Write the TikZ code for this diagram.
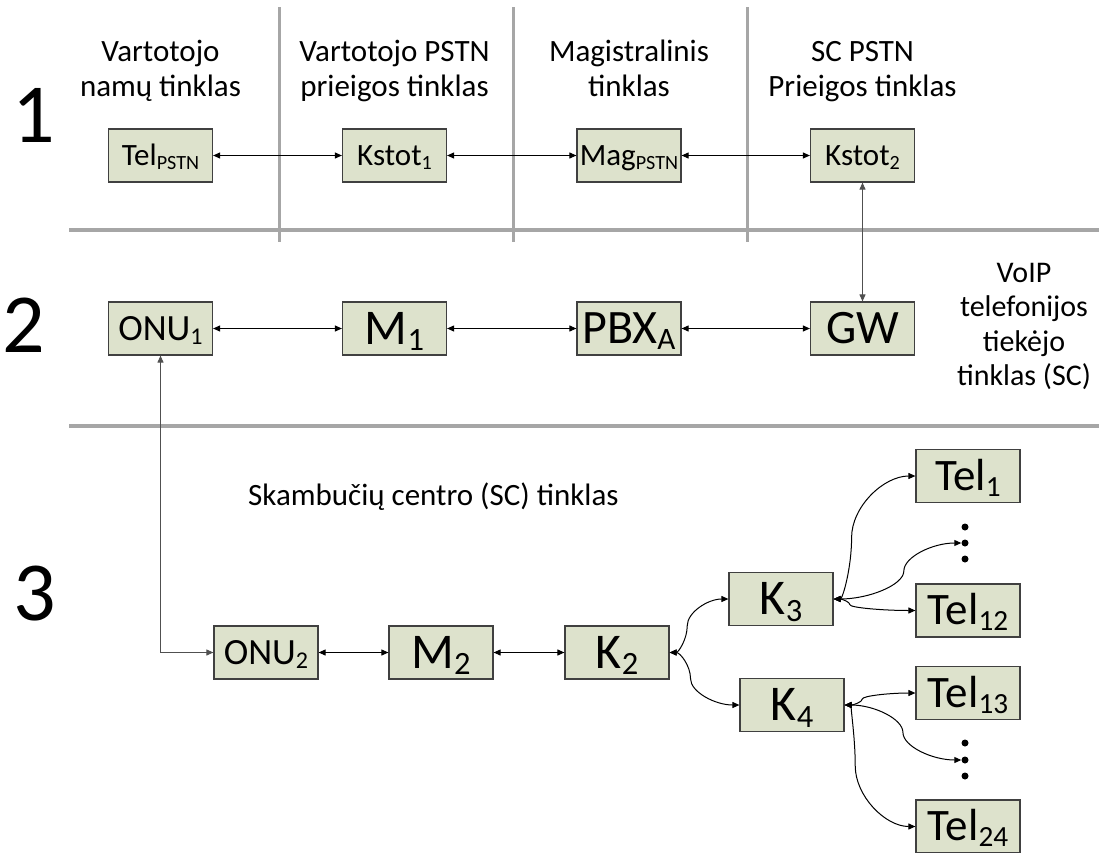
\documentclass[tikz,border=0pt]{standalone}
\usepackage{fontspec}
\setmainfont{Carlito}
\usetikzlibrary{arrows.meta,calc}
\definecolor{boxfill}{HTML}{DDE2CC}
\definecolor{boxline}{HTML}{404040}
\definecolor{sepgray}{HTML}{A6A6A6}
\definecolor{linkgray}{HTML}{505050}
% centred multi-line text whose reference point is the first baseline
\newcommand\txtlines[1]{\begin{tabular}[t]{@{}c@{}}#1\end{tabular}}
% small lowered index, 65 % of the running size
\makeatletter
\newcommand\lowidx[1]{\raisebox{-0.13em}{\fontsize{\fpeval{0.65*\f@size}}{0}\selectfont #1}}
\makeatother
\begin{document}
\begin{tikzpicture}[x=1pt,y=-1pt,
  unit/.style={draw=boxline, line width=1.2pt, fill=boxfill,
    minimum width=104pt, minimum height=53pt, inner sep=0pt,
    font=\fontsize{31}{36}\selectfont, text height=19.5pt, text depth=0pt},
  mid/.style={unit, font=\fontsize{37}{44}\selectfont, text height=23.3pt},
  big/.style={unit, font=\fontsize{50}{54}\selectfont, text height=31.5pt},
  wide/.style={unit, font=\fontsize{48}{52}\selectfont, text height=30.2pt},
  term/.style={unit, font=\fontsize{45}{50}\selectfont, text height=28.4pt},
  sep/.style={draw=sepgray, line width=3.6pt},
  link/.style={draw=black, line width=1pt,
    {Triangle[length=7pt,width=6pt]}-{Triangle[length=7pt,width=6pt]}},
  hdr/.style={font=\fontsize{31}{35}\selectfont, anchor=base, inner sep=0pt},
  level/.style={font=\fontsize{84}{90}\selectfont, inner sep=0pt, anchor=base},
  dot/.style={circle, fill=black, inner sep=0pt, minimum size=7pt},
  % curved connector: horizontal ends, vertical turn at fraction #1 of the run
  swing/.style={to path={let \p1=(\tikztostart), \p2=(\tikztotarget),
     \p3=($(\p1)!#1!(\p2)$), \p4=($(\p1)!0.5!(\p2)$),
     \p5=($(\p1)!0.25!(\p2)$), \p6=($(\p1)!0.75!(\p2)$),
     \p7=($(\p1)!0.5*#1!(\p2)$), \p8=($(\p1)!0.5+0.5*#1!(\p2)$) in
     .. controls (\x7,\y1) and (\x3,\y5) .. (\x3,\y4)
     .. controls (\x3,\y6) and (\x8,\y2) .. (\p2)}},
]
\useasboundingbox (0,0) rectangle (1101,852);

% zone separators
\coordinate (hl1a) at (69,230);  \coordinate (hl1b) at (1099,230);
\coordinate (hl2a) at (69,426);  \coordinate (hl2b) at (1099,426);
\coordinate (vl1a) at (279.5,7); \coordinate (vl1b) at (279.5,242);
\coordinate (vl2a) at (513.5,7); \coordinate (vl2b) at (513.5,242);
\coordinate (vl3a) at (747.5,7); \coordinate (vl3b) at (747.5,242);
\draw[sep] (hl1a) -- (hl1b);
\draw[sep] (hl2a) -- (hl2b);
\draw[sep] (vl1a) -- (vl1b);
\draw[sep] (vl2a) -- (vl2b);
\draw[sep] (vl3a) -- (vl3b);

% level numbers
\node[level] (lv1) at (34,142) {1};
\node[level] (lv2) at (24,352) {2};
\node[level] (lv3) at (35,620) {3};

% zone titles
\node[hdr] (tA) at (160.5,61) {\txtlines{Vartotojo\\namų tinklas}};
\node[hdr] (tB) at (394.5,61) {\txtlines{Vartotojo PSTN\\prieigos tinklas}};
\node[hdr] (tC) at (629,61) {\txtlines{Magistralinis\\tinklas}};
\node[hdr] (tD) at (862.5,61) {\txtlines{SC PSTN\\Prieigos tinklas}};
\node[hdr, font=\fontsize{30}{34.5}\selectfont] (tE) at (1024,282)
  {\txtlines{VoIP\\telefonijos\\tiekėjo\\tinklas (SC)}};
\node[hdr, anchor=base west] (tF) at (248,505) {Skambučių centro (SC) tinklas};

% level 1
\node[unit] (telpstn) at (160.5,155.5) {Tel\lowidx{PSTN}};
\node[unit] (kstot1) at (394.5,155.5) {Kstot\lowidx{1}};
\node[unit] (magpstn) at (629,155.5) {Mag\lowidx{PSTN}};
\node[unit] (kstot2) at (862.5,155.5) {Kstot\lowidx{2}};

% level 2
\node[mid] (onu1) at (160.5,328.5) {ONU\lowidx{1}};
\node[big] (m1) at (394.5,328.5) {M\lowidx{1}};
\node[wide] (pbx) at (629,328.5) {PBX\lowidx{A}};
\node[wide] (gw) at (862.5,328.5) {GW};

% level 3
\node[mid] (onu2) at (266,652.5) {ONU\lowidx{2}};
\node[big] (m2) at (441,652.5) {M\lowidx{2}};
\node[big] (k2) at (617,652.5) {K\lowidx{2}};
\node[big] (k3) at (781,599) {K\lowidx{3}};
\node[big] (k4) at (792,705) {K\lowidx{4}};
\node[term] (tel1) at (968,476) {Tel\lowidx{1}};
\node[term] (tel12) at (968,610.5) {Tel\lowidx{12}};
\node[term] (tel13) at (968,693) {Tel\lowidx{13}};
\node[term] (tel24) at (968,826.5) {Tel\lowidx{24}};

% vertical ellipses between the terminals
\node[dot] (dA1) at (965,527) {};
\node[dot] (dA2) at (965,543) {};
\node[dot] (dA3) at (965,559) {};
\node[dot] (dB1) at (965,743) {};
\node[dot] (dB2) at (965,760) {};
\node[dot] (dB3) at (965,776) {};

% links
\draw[link] (telpstn) -- (kstot1);
\draw[link] (kstot1) -- (magpstn);
\draw[link] (magpstn) -- (kstot2);
\draw[link, draw=linkgray] (gw) -- (kstot2);
\draw[link] (onu1) -- (m1);
\draw[link] (m1) -- (pbx);
\draw[link] (pbx) -- (gw);
\draw[link, draw=linkgray] (onu1.south) |- (onu2.west);
\draw[link] (onu2) -- (m2);
\draw[link] (m2) -- (k2);
\draw[link] (k2.east) to[swing=0.3] (k3.west);
\draw[link] (k2.east) to[swing=0.3] (k4.west);
\draw[link] (k3.east) to[swing=0.22] (tel1.west);
\draw[link] (k3.east) to[swing=0.55] (dA2.west);
\draw[link] (k3.east) to[swing=0.2] (tel12.west);
\draw[link] (k4.east) to[swing=0.25] (tel13.west);
\draw[link] (k4.east) to[swing=0.5] (dB2.west);
\draw[link] (k4.east) to[swing=0.15] (tel24.west);
\end{tikzpicture}
\end{document}
